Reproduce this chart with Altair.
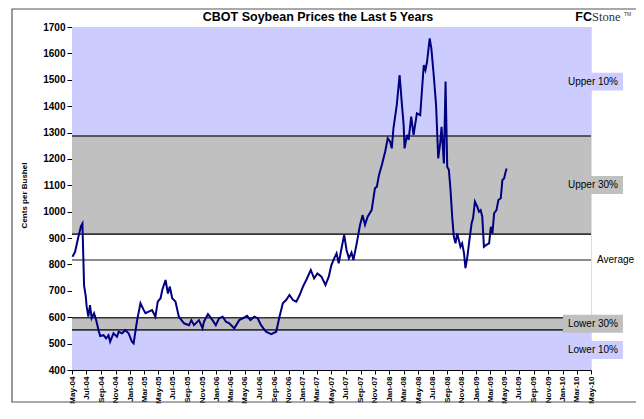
import altair as alt
import pandas as pd

# ---- data ----
dates = ["2004-05-03","2004-05-14","2004-05-28","2004-06-08","2004-06-14","2004-06-21","2004-06-28","2004-07-02","2004-07-09","2004-07-16","2004-07-23","2004-08-02","2004-08-11","2004-08-21","2004-08-28","2004-09-11","2004-09-22","2004-10-02","2004-10-09","2004-10-23","2004-11-07","2004-11-14","2004-11-28","2004-12-12","2004-12-26","2005-01-09","2005-01-16","2005-01-31","2005-02-14","2005-02-28","2005-03-07","2005-03-21","2005-04-04","2005-04-18","2005-04-28","2005-05-10","2005-05-17","2005-05-31","2005-06-10","2005-06-18","2005-06-28","2005-07-12","2005-07-26","2005-08-17","2005-09-07","2005-09-17","2005-09-28","2005-10-19","2005-11-03","2005-11-09","2005-11-26","2005-12-15","2005-12-29","2006-01-12","2006-01-27","2006-02-10","2006-02-24","2006-03-17","2006-04-07","2006-04-22","2006-05-10","2006-05-24","2006-06-10","2006-06-24","2006-07-08","2006-07-29","2006-08-20","2006-09-10","2006-09-24","2006-10-08","2006-10-22","2006-11-05","2006-11-20","2006-12-04","2006-12-18","2007-01-01","2007-01-15","2007-02-03","2007-02-17","2007-03-03","2007-03-20","2007-04-06","2007-04-20","2007-05-01","2007-05-13","2007-05-23","2007-06-01","2007-06-10","2007-06-24","2007-07-04","2007-07-14","2007-07-25","2007-08-02","2007-08-16","2007-08-30","2007-09-10","2007-09-20","2007-10-01","2007-10-18","2007-11-01","2007-11-09","2007-11-18","2007-11-30","2007-12-14","2007-12-25","2008-01-04","2008-01-11","2008-01-18","2008-02-01","2008-02-13","2008-02-23","2008-03-01","2008-03-05","2008-03-15","2008-03-22","2008-04-02","2008-04-12","2008-04-26","2008-05-10","2008-05-25","2008-06-01","2008-06-08","2008-06-19","2008-06-26","2008-07-06","2008-07-16","2008-07-25","2008-08-03","2008-08-08","2008-08-18","2008-08-25","2008-09-01","2008-09-08","2008-09-15","2008-09-22","2008-09-29","2008-10-06","2008-10-13","2008-10-20","2008-10-27","2008-11-03","2008-11-11","2008-11-17","2008-11-25","2008-12-02","2008-12-13","2008-12-19","2008-12-27","2009-01-06","2009-01-13","2009-01-20","2009-01-27","2009-02-03","2009-02-13","2009-02-25","2009-03-04","2009-03-11","2009-03-18","2009-03-28","2009-04-05","2009-04-15","2009-04-22","2009-04-29","2009-05-06","2009-05-10"]
prices = [829,848,905,945,955,720,680,640,602,646,596,615,589,551,529,532,520,532,507,539,526,545,539,551,539,507,501,589,653,627,615,621,627,602,659,672,703,741,690,716,672,659,602,577,570,589,570,589,558,583,612,589,570,596,602,583,577,558,589,596,605,589,602,596,570,545,536,545,602,653,665,684,665,659,684,716,741,779,747,766,754,722,754,798,823,842,804,848,912,855,823,845,817,880,950,987,950,981,1006,1089,1095,1139,1177,1227,1278,1265,1240,1316,1404,1518,1404,1329,1240,1291,1272,1360,1291,1373,1366,1556,1537,1569,1657,1619,1518,1404,1202,1265,1322,1183,1493,1170,1158,1082,981,905,880,918,893,867,880,842,786,829,880,956,975,1038,1019,1000,1006,981,867,874,880,943,918,994,1006,1044,1051,1120,1126,1152,1164]

band_kind = ["Lower 10%", "Lower 30%", "Middle", "Upper 30%", "Upper 10%"]
band_lo = [400, 552, 598, 915, 1287]
band_hi = [552, 598, 915, 1287, 1700]
boundaries = [552, 598, 915, 1287]
average = [817]

label_text = ["Upper 10%", "Upper 30%", "Average", "Lower 30%", "Lower 10%"]
label_value = [1493, 1101, 817, 575, 476]

title_text = "CBOT Soybean Prices the Last 5 Years"
y_title = "Cents per Bushel"

# ---- tables ----
line_df = pd.DataFrame({"date": dates, "price": prices})
band_df = pd.DataFrame({"kind": band_kind, "lo": band_lo, "hi": band_hi})
bound_df = pd.DataFrame({"v": boundaries})
avg_df = pd.DataFrame({"v": average})
lab_df = pd.DataFrame({"label": label_text, "v": label_value})
one = pd.DataFrame({"a": [0]})

FONT = "Liberation Sans"
W, H = 519, 343

kind_scale = alt.Scale(
    domain=["Lower 10%", "Lower 30%", "Middle", "Upper 30%", "Upper 10%"],
    range=["#CCCCFF", "#C0C0C0", "#FFFFFF", "#C0C0C0", "#CCCCFF"],
)
yscale = alt.Scale(domain=[400, 1700], nice=False, zero=False)
yaxis = alt.Axis(
    title=y_title, values=list(range(400, 1701, 100)), format="d",
    labelFont=FONT, labelFontSize=10, labelFontWeight="bold", labelColor="#000",
    tickSize=5, tickColor="#000", domainColor="#000", labelPadding=2, grid=False,
    titleFont=FONT, titleFontSize=8, titleFontWeight="bold", titleColor="#000",
    titleX=-48, titleY=168, titleAngle=270, titleAlign="center", titleBaseline="middle",
)

tick_vals = []
for i in range(37):
    mm = 4 + 2 * i
    tick_vals.append(alt.DateTime(year=2004 + mm // 12, month=mm % 12 + 1, date=1, utc=True))

xscale = alt.Scale(
    type="utc", nice=False,
    domain=[alt.DateTime(year=2004, month=5, date=1, utc=True),
            alt.DateTime(year=2010, month=5, date=1, utc=True)],
)
xaxis = alt.Axis(
    title=None, values=tick_vals, format="%b-%y", labelAngle=270, labelOverlap=False,
    labelFont=FONT, labelFontSize=8, labelFontWeight="bold", labelColor="#000",
    tickSize=4, tickColor="#000", domainColor="#000", labelPadding=2, grid=False,
)

bands = alt.Chart(band_df).mark_rect().encode(
    y=alt.Y("lo:Q", scale=yscale, axis=yaxis),
    y2="hi:Q",
    color=alt.Color("kind:N", scale=kind_scale, legend=None),
)

bound_rules = alt.Chart(bound_df).mark_rule(color="#333333", strokeWidth=1.6).encode(
    y=alt.Y("v:Q", scale=yscale, axis=yaxis)
)
avg_rule = alt.Chart(avg_df).mark_rule(color="#8C8C8C", strokeWidth=2.2).encode(
    y=alt.Y("v:Q", scale=yscale, axis=yaxis)
)

line = alt.Chart(line_df).mark_line(color="#000080", strokeWidth=2).encode(
    x=alt.X("date:T", scale=xscale, axis=xaxis),
    y=alt.Y("price:Q", scale=yscale, axis=yaxis),
)

boxes = alt.Chart(lab_df).transform_filter(
    alt.datum.label != "Average"
).transform_calculate(
    lo="datum.v - 34", hi="datum.v + 34"
).mark_rect().encode(
    x=alt.value(491), x2=alt.value(551),
    y=alt.Y("lo:Q", scale=yscale, axis=yaxis), y2="hi:Q",
    color=alt.Color("label:N", scale=kind_scale, legend=None),
)

box_text = alt.Chart(lab_df).transform_filter(
    alt.datum.label != "Average"
).mark_text(font=FONT, fontSize=10, color="#000", align="center", baseline="middle").encode(
    x=alt.value(521), y=alt.Y("v:Q", scale=yscale, axis=yaxis), text="label:N"
)
avg_text = alt.Chart(lab_df).transform_filter(
    alt.datum.label == "Average"
).mark_text(font=FONT, fontSize=10, color="#000", align="left", baseline="middle").encode(
    x=alt.value(525), y=alt.Y("v:Q", scale=yscale, axis=yaxis), text="label:N"
)

title = alt.Chart(one).mark_text(
    font=FONT, fontSize=12.5, fontWeight="bold", color="#000", align="center", baseline="alphabetic"
).encode(x=alt.value(246), y=alt.value(-6), text=alt.value(title_text))

logo_fc = alt.Chart(one).mark_text(
    font=FONT, fontSize=12.5, fontWeight="bold", color="#000", align="right", baseline="alphabetic"
).encode(x=alt.value(520), y=alt.value(-6), text=alt.value("FC"))
logo_st = alt.Chart(one).mark_text(
    font="Liberation Serif", fontSize=12.5, color="#333", align="left", baseline="alphabetic"
).encode(x=alt.value(520), y=alt.value(-6), text=alt.value("Stone"))
logo_tm = alt.Chart(one).mark_text(
    font=FONT, fontSize=5, color="#333", align="left", baseline="alphabetic"
).encode(x=alt.value(552), y=alt.value(-11), text=alt.value("TM"))

frame = alt.Chart(one).mark_rect(fill=None, stroke="#555555", strokeWidth=1.2).encode(
    x=alt.value(-60), x2=alt.value(600), y=alt.value(-18), y2=alt.value(H + 32)
)

chart = alt.layer(
    bands, bound_rules, avg_rule, line, boxes, box_text, avg_text,
    title, logo_fc, logo_st, logo_tm, frame,
).properties(
    width=W, height=H,
    autosize=alt.AutoSizeParams(type="none"),
    padding={"left": 64, "top": 19, "right": 45, "bottom": 34},
).configure_view(
    stroke="#333333", strokeWidth=1.2
).configure(background="white")

chart.save("out.html", embed_options={"renderer": "svg", "actions": False})
